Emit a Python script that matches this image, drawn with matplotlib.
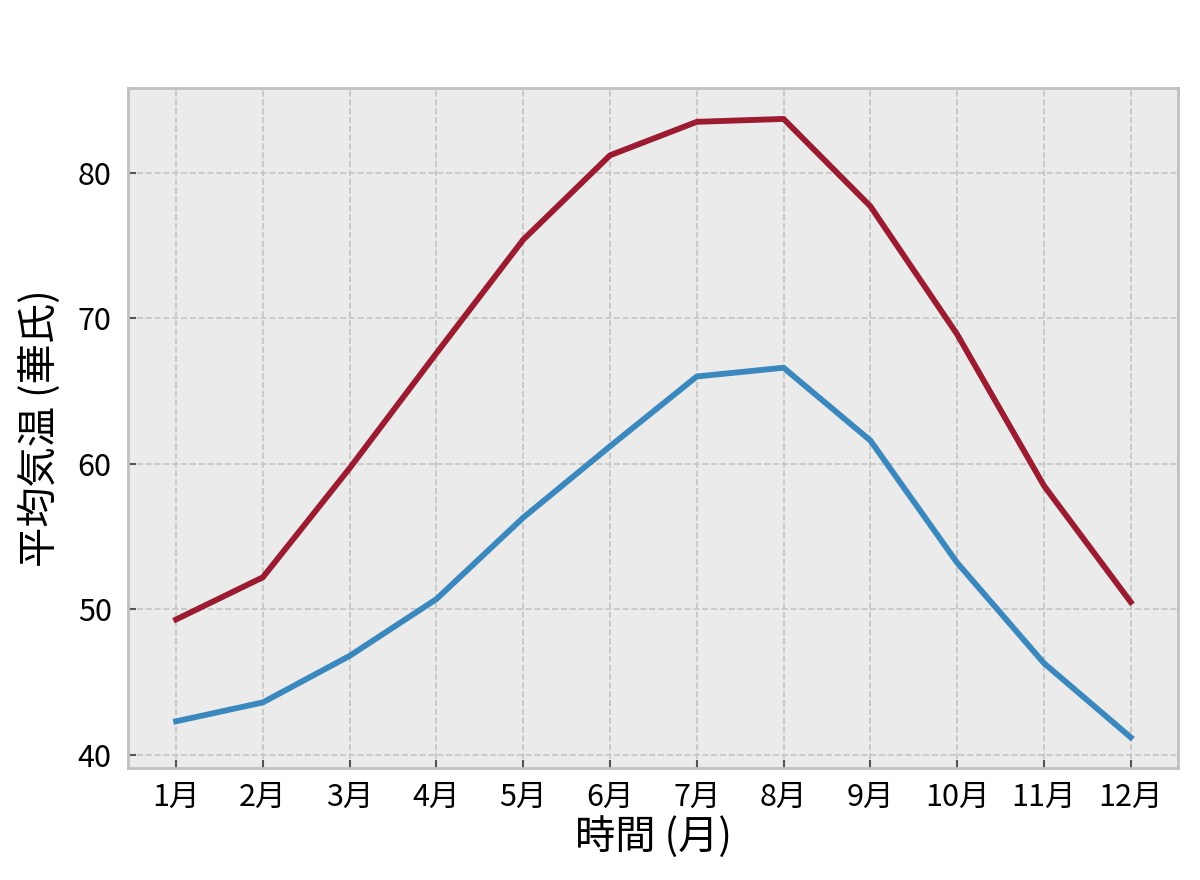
import matplotlib
matplotlib.use("Agg")
import matplotlib.pyplot as plt

plt.rcParams['font.family'] = ['Noto Sans CJK JP', 'DejaVu Sans']

months = ["1月", "2月", "3月", "4月", "5月", "6月", "7月", "8月", "9月", "10月", "11月", "12月"]
high_temp = [49.3, 52.2, 59.7, 67.6, 75.4, 81.2, 83.5, 83.7, 77.7, 68.9, 58.5, 50.5]
low_temp = [42.3, 43.6, 46.8, 50.7, 56.3, 61.2, 66.0, 66.6, 61.6, 53.2, 46.3, 41.2]

x = list(range(1, len(months) + 1))

fig, ax = plt.subplots(figsize=(12, 8.8), dpi=100)
fig.subplots_adjust(left=0.107, right=0.982, top=0.9, bottom=0.127)

ax.set_facecolor('#ebebeb')
ax.plot(x, high_temp, color='#9b1b30', linewidth=4.2)
ax.plot(x, low_temp, color='#3a88be', linewidth=4.2)

ax.set_xticks(x)
ax.set_xticklabels(months)
ax.set_yticks([40, 50, 60, 70, 80])
ax.tick_params(direction='in', length=6, width=1.5, color='#555555', labelsize=22)
ax.tick_params(axis='x', pad=10)
ax.tick_params(axis='y', pad=12)
ax.grid(True, linestyle='--', color='#c4c4c4', linewidth=1.2)
ax.set_axisbelow(True)
for sp in ax.spines.values():
    sp.set_color('#c0c0c0')
    sp.set_linewidth(2)

ax.set_xlabel("時間 (月)", fontsize=29, labelpad=2)
ax.set_ylabel("平均気温 (華氏)", fontsize=29, labelpad=12)

fig.savefig("out.png")
